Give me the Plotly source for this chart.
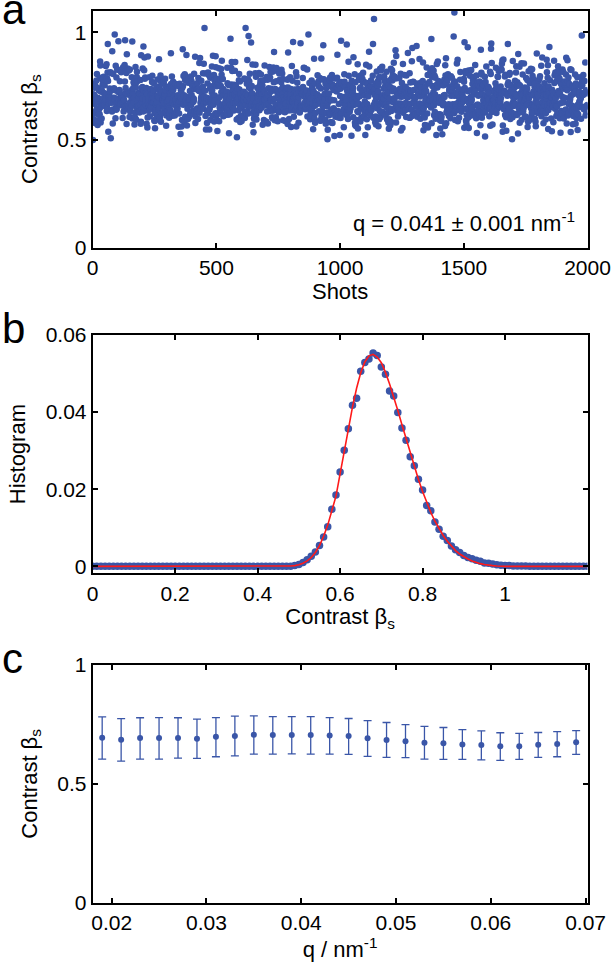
import numpy as np
import plotly.graph_objects as go

BLUE = "#3a56a8"
RED = "#ff1a1a"
FONT = "Liberation Sans, Arial, sans-serif"

# --- panel b: histogram of contrast (bin width 0.01, 0 .. 1.20) ---
hist_bins = np.round(np.arange(0, 1.2001, 0.01), 2)
hist_vals = [0.0] * 49 + [
    0.0002, 0.0005, 0.0010, 0.0017, 0.0026, 0.0037, 0.0054, 0.0076, 0.0103, 0.0148,
    0.0185, 0.0245, 0.0301, 0.0357, 0.0418, 0.0436, 0.0506, 0.0529, 0.0538, 0.0553,
    0.0547, 0.0517, 0.0498, 0.0455, 0.0442, 0.0399, 0.0359, 0.0327, 0.0284, 0.0261,
    0.0226, 0.0198, 0.0158, 0.0144, 0.0115, 0.0096, 0.0078, 0.0067, 0.0053, 0.0043,
    0.0036, 0.0028, 0.0023, 0.0020, 0.0016, 0.0013, 0.0009, 0.0008, 0.0006, 0.0004,
    0.0003, 0.0002, 0.0002, 0.0001, 0.0001, 0.0001, 0.0001,
] + [0.0] * 15
fit_vals = [0.0] * 48 + [
    0.0001, 0.0002, 0.0004, 0.0008, 0.0014, 0.0023, 0.0036, 0.0054, 0.0078, 0.0107,
    0.0142, 0.0182, 0.0240, 0.0298, 0.0357, 0.0413, 0.0462, 0.0502, 0.0530, 0.0546,
    0.0550, 0.0543, 0.0528, 0.0503, 0.0473, 0.0440, 0.0404, 0.0367, 0.0330, 0.0293,
    0.0258, 0.0225, 0.0194, 0.0166, 0.0140, 0.0117, 0.0097, 0.0080, 0.0065, 0.0052,
    0.0041, 0.0032, 0.0025, 0.0019, 0.0014, 0.0010, 0.0007, 0.0005, 0.0003, 0.0002,
    0.0001,
] + [0.0] * 22

# --- panel a: 2000 shots, spread according to the histogram above ---
n_shots = 2000
outlier_shots = [88, 103, 60, 451, 617, 629, 809, 839, 1003, 1132, 1136, 1368, 1461,
                 1502, 1677, 1845, 1976, 948, 976, 1694, 1101, 550, 1388, 62]
outlier_vals = [0.989, 0.958, 0.946, 1.02, 1.02, 0.983, 0.955, 0.949, 0.96, 0.946, 1.062,
                0.969, 1.092, 0.954, 0.946, 0.931, 0.985, 0.503, 0.518, 0.503, 0.523,
                0.531, 0.523, 0.538]

counts = np.round(np.array(hist_vals) * n_shots).astype(int)
counts[np.argmax(counts)] += n_shots - counts.sum()
shot_vals = []
for b, c in zip(hist_bins, counts):
    if c > 0:
        shot_vals.extend(b - 0.005 + (np.arange(c) + 0.5) / c * 0.01)
shot_vals = np.array(shot_vals)
k = np.arange(n_shots, dtype=float)
spread = np.argsort(np.argsort((k * k * 0.6180339887 + k * 0.4142135624) % 1.0))
contrast_a = np.empty(n_shots)
contrast_a[spread] = shot_vals
contrast_a[outlier_shots] = outlier_vals
shots = np.arange(1, n_shots + 1)

# --- panel c: mean contrast vs q with error bars ---
q_vals = [0.019, 0.021, 0.023, 0.025, 0.027, 0.029, 0.031, 0.033, 0.035, 0.037, 0.039,
          0.041, 0.043, 0.045, 0.047, 0.049, 0.051, 0.053, 0.055, 0.057, 0.059, 0.061,
          0.063, 0.065, 0.067, 0.069]
c_mean = [0.694, 0.686, 0.693, 0.693, 0.693, 0.690, 0.698, 0.701, 0.707, 0.705, 0.705,
          0.705, 0.703, 0.701, 0.692, 0.684, 0.679, 0.673, 0.671, 0.666, 0.663, 0.658,
          0.658, 0.665, 0.668, 0.675]
c_upper = [0.782, 0.774, 0.778, 0.779, 0.778, 0.772, 0.779, 0.785, 0.786, 0.783, 0.783,
           0.783, 0.779, 0.775, 0.766, 0.758, 0.749, 0.742, 0.737, 0.728, 0.723, 0.715,
           0.712, 0.716, 0.720, 0.724]
c_lower = [0.604, 0.596, 0.604, 0.604, 0.608, 0.607, 0.614, 0.618, 0.625, 0.625, 0.626,
           0.625, 0.625, 0.624, 0.616, 0.611, 0.610, 0.604, 0.603, 0.603, 0.601, 0.599,
           0.603, 0.611, 0.614, 0.624]

fig = go.Figure()

fig.add_trace(go.Scatter(
    x=shots, y=contrast_a, mode="markers", xaxis="x", yaxis="y",
    marker=dict(color=BLUE, size=6.5, line=dict(width=0)), showlegend=False,
))
fig.add_trace(go.Scatter(
    x=hist_bins, y=hist_vals, mode="markers", xaxis="x2", yaxis="y2",
    marker=dict(color=BLUE, size=7.5, line=dict(width=0)), showlegend=False,
))
fig.add_trace(go.Scatter(
    x=hist_bins, y=fit_vals, mode="lines", xaxis="x2", yaxis="y2",
    line=dict(color=RED, width=1.6), showlegend=False,
))
fig.add_trace(go.Scatter(
    x=q_vals, y=c_mean, mode="markers", xaxis="x3", yaxis="y3",
    marker=dict(color=BLUE, size=6),
    error_y=dict(type="data", symmetric=False,
                 array=np.array(c_upper) - np.array(c_mean),
                 arrayminus=np.array(c_mean) - np.array(c_lower),
                 color=BLUE, thickness=1.3, width=4),
    showlegend=False,
))

TICK = 21
TITLE = 22
frame = dict(showline=True, linecolor="black", linewidth=2, mirror="allticks",
             ticks="inside", ticklen=5, tickwidth=2, tickcolor="black",
             showgrid=False, zeroline=False, automargin=False,
             tickfont=dict(family=FONT, size=TICK, color="black"))
title_font = dict(family=FONT, size=TITLE, color="black")
xdom = [92.7 / 611, 587.5 / 611]

fig.update_layout(
    width=611, height=963,
    margin=dict(l=0, r=0, t=0, b=0, autoexpand=False),
    paper_bgcolor="white", plot_bgcolor="white",
    font=dict(family=FONT, color="black"),
    xaxis=dict(frame, domain=xdom, anchor="y", range=[0, 2000],
               tickvals=[0, 500, 1000, 1500, 2000],
               title=dict(text="Shots", font=title_font, standoff=0)),
    yaxis=dict(frame, domain=[1 - 247.7 / 963, 1 - 10.7 / 963], anchor="x", range=[0, 1.1],
               tickvals=[0, 0.5, 1], ticktext=["0", "0.5", "1"],
               title=dict(text="Contrast β<sub>s</sub>", font=title_font, standoff=14)),
    xaxis2=dict(frame, domain=xdom, anchor="y2", range=[0, 1.2],
                tickvals=[0, 0.2, 0.4, 0.6, 0.8, 1], ticktext=["0", "0.2", "0.4", "0.6", "0.8", "1"],
                title=dict(text="Contrast β<sub>s</sub>", font=title_font, standoff=0)),
    yaxis2=dict(frame, domain=[1 - 573.3 / 963, 1 - 335 / 963], anchor="x2",
                range=[-0.0018, 0.06],
                tickvals=[0, 0.02, 0.04, 0.06], ticktext=["0", "0.02", "0.04", "0.06"],
                title=dict(text="Histogram", font=title_font, standoff=14)),
    xaxis3=dict(frame, domain=xdom, anchor="y3", range=[0.018, 0.0702],
                tickvals=[0.02, 0.03, 0.04, 0.05, 0.06, 0.07],
                ticktext=["0.02", "0.03", "0.04", "0.05", "0.06", "0.07"],
                title=dict(text="q / nm<sup>-1</sup>", font=title_font, standoff=0)),
    yaxis3=dict(frame, domain=[1 - 902.7 / 963, 1 - 665 / 963], anchor="x3", range=[0, 1],
                tickvals=[0, 0.5, 1], ticktext=["0", "0.5", "1"],
                title=dict(text="Contrast β<sub>s</sub>", font=title_font, standoff=14)),
)

letters = [("a", 1 - 9 / 963), ("b", 1 - 328 / 963), ("c", 1 - 658 / 963)]
for letter, ypos in letters:
    fig.add_annotation(x=0.0, y=ypos, xref="paper", yref="paper", text=letter,
                       showarrow=False, xanchor="left", yanchor="middle",
                       font=dict(family=FONT, size=42, color="black"))

fig.add_annotation(x=577 / 611, y=1 - 222 / 963, xref="paper", yref="paper",
                   text="q = 0.041 ± 0.001 nm<sup>-1</sup>", showarrow=False,
                   xanchor="right", yanchor="middle",
                   font=dict(family=FONT, size=22, color="black"))

# drop the default page margin so the figure sits at the window's top-left corner
fig.write_html("out.html", config={"displayModeBar": False},
               post_script="document.body.style.margin='0';")
